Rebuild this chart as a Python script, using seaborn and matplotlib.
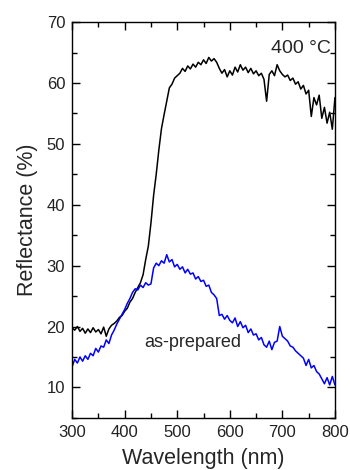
import numpy as np
import pandas as pd
import matplotlib
matplotlib.use("Agg")
import matplotlib.pyplot as plt
import seaborn as sns
from matplotlib.ticker import MultipleLocator

# wavelength grid (nm), 5 nm steps
wavelength = list(range(300, 805, 5))

# 400 C annealed sample
refl_400 = [19.8, 19.4, 20.0, 19.2, 19.7, 18.9, 19.6, 19.0, 19.8, 19.1,
            19.5, 18.8, 19.9, 18.4, 19.6, 20.2, 20.5, 20.9, 21.5, 21.8,
            22.5, 23.0, 24.0, 24.6, 25.6, 26.4, 27.2, 28.5, 31.0, 33.2,
            37.0, 41.5, 45.0, 49.0, 52.5, 54.8, 57.0, 59.2, 59.8, 60.8,
            61.2, 61.6, 62.4, 61.9, 62.8, 62.3, 63.1, 62.6, 63.4, 63.0,
            63.8, 63.2, 64.2, 63.6, 64.0, 63.4, 62.4, 61.6, 62.2, 61.0,
            62.0, 61.3, 62.6, 61.8, 63.0, 62.1, 62.6, 61.7, 62.4, 61.5,
            62.0, 61.2, 61.6, 60.6, 57.0, 61.4, 62.0, 61.2, 63.0, 62.0,
            61.4, 61.0, 61.3, 60.4, 60.8, 59.8, 60.2, 59.0, 59.6, 58.2,
            58.8, 54.5, 57.6, 56.4, 58.0, 54.2, 56.0, 53.4, 55.2, 52.4,
            57.6]

# as-prepared sample
refl_prep = [13.4, 14.6, 14.0, 15.0, 14.3, 15.2, 14.6, 15.6, 15.2, 16.4,
             15.8, 16.8, 16.6, 17.8, 17.2, 18.6, 19.4, 20.4, 21.2, 22.0,
             22.8, 23.8, 24.6, 25.6, 26.2, 26.0, 26.8, 26.4, 27.2, 26.8,
             27.0, 29.6, 30.4, 30.0, 30.8, 30.4, 31.8, 30.6, 31.0, 29.8,
             30.2, 29.4, 29.8, 28.8, 29.4, 28.6, 28.8, 27.8, 28.2, 27.4,
             27.6, 26.6, 26.8, 25.6, 25.2, 24.6, 21.8, 22.0, 21.2, 21.8,
             21.0, 20.6, 21.4, 20.0, 20.8, 19.8, 20.2, 19.0, 19.6, 18.6,
             18.8, 17.8, 18.2, 17.0, 16.6, 17.6, 16.2, 17.4, 17.6, 20.0,
             18.4, 18.0, 17.6, 16.8, 16.6, 16.0, 15.6, 15.2, 14.8, 13.6,
             14.6, 13.2, 13.6, 12.6, 12.2, 11.4, 10.6, 11.6, 10.4, 11.8,
             10.4]

samples = ["400 °C", "as-prepared"]
colors = ["black", "#0000ff"]

sns.set_theme(style="ticks")
plt.rcParams['font.family'] = ['Liberation Sans', 'DejaVu Sans']
plt.rcParams['xtick.direction'] = 'in'
plt.rcParams['ytick.direction'] = 'in'

df = pd.DataFrame({
    'wavelength': wavelength * 2,
    'reflectance': refl_400 + refl_prep,
    'sample': [samples[0]] * len(wavelength) + [samples[1]] * len(wavelength),
})

fig = plt.figure(figsize=(3.5, 4.7), dpi=100)
ax = fig.add_axes([0.206, 0.111, 0.751, 0.842])
sns.lineplot(data=df, x='wavelength', y='reflectance', hue='sample',
             palette=colors, linewidth=1.1, legend=False, ax=ax)

ax.set_xlim(300, 800)
ax.set_ylim(5, 70)
ax.xaxis.set_major_locator(MultipleLocator(100))
ax.xaxis.set_minor_locator(MultipleLocator(50))
ax.yaxis.set_major_locator(MultipleLocator(10))
ax.yaxis.set_minor_locator(MultipleLocator(5))
ax.yaxis.set_major_formatter(matplotlib.ticker.FuncFormatter(
    lambda v, p: "" if v < 10 else f"{v:.0f}"))
ax.tick_params(which='both', top=True, right=True, color='black',
               labelsize=12, labelcolor='#222222')
ax.tick_params(which='major', length=6, width=1, pad=5)
ax.tick_params(which='minor', length=3.5, width=1)
for s in ax.spines.values():
    s.set_color('black')
    s.set_linewidth(1)

ax.set_xlabel("Wavelength (nm)", fontsize=15.5, labelpad=6)
ax.set_ylabel("Reflectance (%)", fontsize=15.5, labelpad=6)
ax.text(792, 65.7, samples[0], fontsize=14, ha='right', va='center')
ax.text(530, 17.4, samples[1], fontsize=13, ha='center', va='center')

fig.savefig("out.png", dpi=100)
